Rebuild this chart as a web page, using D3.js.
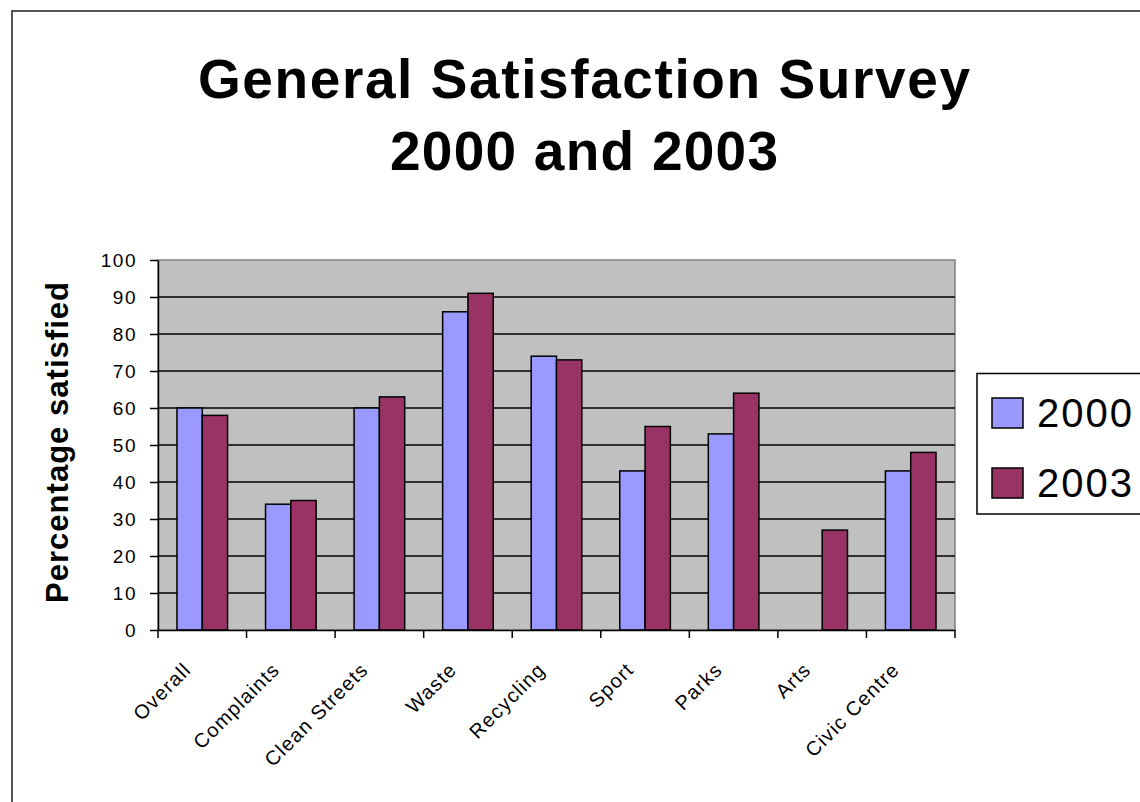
<!DOCTYPE html>
<html>
<head>
<meta charset="utf-8">
<script src="https://cdn.jsdelivr.net/npm/d3@7"></script>
<style>
  html, body { margin: 0; padding: 0; background: #fff; }
  svg { display: block; }
  text { font-family: "Liberation Sans", Arial, sans-serif; fill: #000; }
</style>
</head>
<body>
<svg id="chart" width="1140" height="802"></svg>
<script>
// Survey categories and satisfaction percentages per year
const categories = ["Overall", "Complaints", "Clean Streets", "Waste", "Recycling", "Sport", "Parks", "Arts", "Civic Centre"];
const seriesNames = ["2000", "2003"];
const values2000 = [60, 34, 60, 86, 74, 43, 53, null, 43];
const values2003 = [58, 35, 63, 91, 73, 55, 64, 27, 48];
const yTicks = [0, 10, 20, 30, 40, 50, 60, 70, 80, 90, 100];
const seriesColors = ["#9999ff", "#993366"];
const titleLines = ["General Satisfaction Survey", "2000 and 2003"];
const yAxisTitle = "Percentage satisfied";

const svg = d3.select("#chart");

// chart area frame
svg.append("rect")
  .attr("x", 12).attr("y", 11)
  .attr("width", 1200).attr("height", 900)
  .attr("fill", "#fff")
  .attr("stroke", "#555").attr("stroke-width", 2);

// title
const titleY = [98, 170];
const titleW = [772, 388];
svg.append("g").selectAll("text")
  .data(titleLines)
  .join("text")
  .attr("x", 584)
  .attr("y", (d, i) => titleY[i])
  .attr("text-anchor", "middle")
  .attr("font-size", 55)
  .attr("font-weight", "bold")
  .attr("textLength", (d, i) => titleW[i])
  .attr("lengthAdjust", "spacing")
  .text(d => d);

// plot area
const plot = { left: 158, right: 955, top: 260, bottom: 630 };

const x = d3.scaleBand()
  .domain(categories)
  .range([plot.left, plot.right])
  .paddingInner(0).paddingOuter(0);

const xSub = d3.scaleBand()
  .domain(seriesNames)
  .range([0, x.bandwidth()])
  .paddingInner(0).paddingOuter(0.75);

const y = d3.scaleLinear()
  .domain([0, 100])
  .range([plot.bottom, plot.top]);

svg.append("rect")
  .attr("x", plot.left).attr("y", plot.top)
  .attr("width", plot.right - plot.left)
  .attr("height", plot.bottom - plot.top)
  .attr("fill", "#c0c0c0")
  .attr("stroke", "#808080").attr("stroke-width", 1.5);

// gridlines
svg.append("g").selectAll("line")
  .data(yTicks.filter(t => t > 0 && t < 100))
  .join("line")
  .attr("x1", plot.left).attr("x2", plot.right)
  .attr("y1", d => y(d)).attr("y2", d => y(d))
  .attr("stroke", "#000").attr("stroke-width", 1.5);

// bars
const rows = categories.map((c, i) => ({ cat: c, vals: [values2000[i], values2003[i]] }));
const groups = svg.append("g").selectAll("g")
  .data(rows)
  .join("g")
  .attr("transform", d => `translate(${x(d.cat)},0)`);

groups.selectAll("rect")
  .data(d => d.vals.map((v, j) => ({ key: seriesNames[j], v, j })).filter(e => e.v !== null))
  .join("rect")
  .attr("x", d => xSub(d.key))
  .attr("width", xSub.bandwidth())
  .attr("y", d => y(d.v))
  .attr("height", d => y(0) - y(d.v))
  .attr("fill", d => seriesColors[d.j])
  .attr("stroke", "#000").attr("stroke-width", 1.5);

// y axis
const yAxis = svg.append("g")
  .attr("transform", `translate(${plot.left},0)`)
  .call(d3.axisLeft(y).tickValues(yTicks).tickSize(8).tickPadding(13).tickSizeOuter(0));
yAxis.select(".domain").attr("stroke", "#000").attr("stroke-width", 1.5);
yAxis.selectAll(".tick line").attr("stroke", "#000").attr("stroke-width", 1.5);
yAxis.selectAll(".tick text")
  .attr("font-family", "Liberation Sans, Arial, sans-serif")
  .attr("font-size", 19)
  .attr("letter-spacing", "1.5px")
  .attr("fill", "#000");

// x axis
const xAxis = svg.append("g")
  .attr("transform", `translate(0,${plot.bottom})`)
  .call(d3.axisBottom(x).tickSize(0).tickSizeOuter(0));
xAxis.select(".domain").attr("stroke", "#000").attr("stroke-width", 1.5);
xAxis.selectAll(".tick text")
  .attr("font-family", "Liberation Sans, Arial, sans-serif")
  .attr("font-size", 20)
  .attr("letter-spacing", "1.2px")
  .attr("fill", "#000")
  .attr("text-anchor", "end")
  .attr("x", null).attr("y", null).attr("dy", null)
  .attr("transform", "translate(-10,41) rotate(-45)");

// category boundary ticks
const bounds = categories.map(c => x(c)).concat([plot.right]);
svg.append("g").selectAll("line")
  .data(bounds)
  .join("line")
  .attr("x1", d => d).attr("x2", d => d)
  .attr("y1", plot.bottom).attr("y2", plot.bottom + 8)
  .attr("stroke", "#000").attr("stroke-width", 1.5);

// y axis title
svg.append("text")
  .attr("transform", `translate(68,${(plot.top + 22 + plot.bottom - 27) / 2}) rotate(-90)`)
  .attr("text-anchor", "middle")
  .attr("font-size", 31)
  .attr("font-weight", "bold")
  .attr("textLength", 321)
  .attr("lengthAdjust", "spacing")
  .text(yAxisTitle);

// legend
const legend = svg.append("g");
legend.append("rect")
  .attr("x", 977).attr("y", 373.5)
  .attr("width", 300).attr("height", 140.5)
  .attr("fill", "#fff")
  .attr("stroke", "#000").attr("stroke-width", 1.5);
const items = legend.selectAll("g.item")
  .data(seriesNames)
  .join("g")
  .attr("class", "item")
  .attr("transform", (d, i) => `translate(992,${398 + i * 70})`);
items.append("rect")
  .attr("width", 31).attr("height", 30)
  .attr("fill", (d, i) => seriesColors[i])
  .attr("stroke", "#000").attr("stroke-width", 1.5);
items.append("text")
  .attr("x", 45).attr("y", 29)
  .attr("font-size", 40)
  .attr("letter-spacing", "2px")
  .text(d => d);
</script>
</body>
</html>
